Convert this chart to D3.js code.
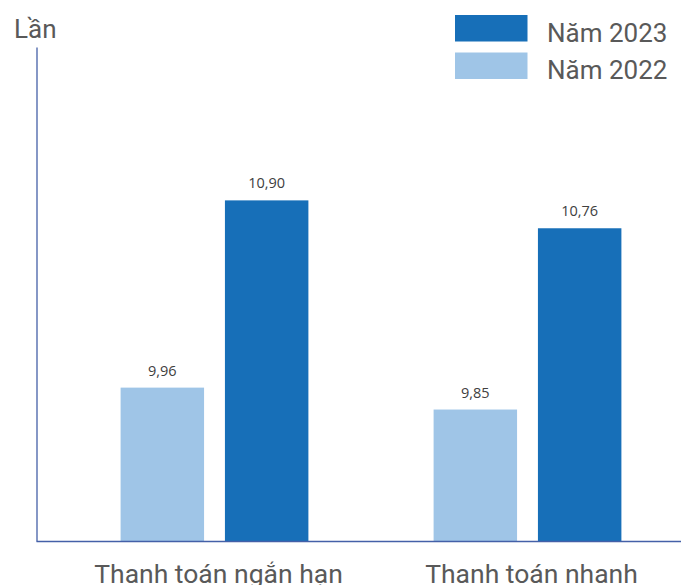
<!DOCTYPE html>
<html>
<head>
<meta charset="utf-8">
<script src="https://cdn.jsdelivr.net/npm/d3@7"></script>
<style>
  html, body { margin: 0; padding: 0; background: #ffffff; }
  svg { display: block; }
</style>
</head>
<body>
<svg id="chart" width="681" height="585"></svg>
<script>
// Hệ số khả năng thanh toán, năm 2022 và 2023
const categories = ["Thanh toán ngắn hạn", "Thanh toán nhanh"];
const seriesKeys = ["2022", "2023"];
const seriesNames = { "2022": "Năm 2022", "2023": "Năm 2023" };
const values2022 = [9.96, 9.85];
const values2023 = [10.90, 10.76];
const yAxisTitle = "Lần";

const colors = { "2022": "#9fc5e7", "2023": "#176fb8" };
const axisColor = "#4460a8";
const textColor = "#595959";

const rows = categories.map((c, i) => ({
  category: c,
  "2022": values2022[i],
  "2023": values2023[i]
}));

const svg = d3.select("#chart");
const plot = { left: 36.5, right: 681, top: 47, bottom: 541 };

// Scales
const x0 = d3.scaleBand()
  .domain(categories)
  .range([58, 684])
  .padding(0);

const x1 = d3.scaleBand()
  .domain(seriesKeys)
  .range([0, x0.bandwidth()])
  .paddingInner(0.2)
  .paddingOuter(0.6);

const y = d3.scaleLinear()
  .domain([9.19, 11.67])
  .range([plot.bottom, plot.top]);

const fmt = v => d3.format(".2f")(v).replace(".", ",");

// Bars
const groups = svg.append("g")
  .selectAll("g")
  .data(rows)
  .join("g")
  .attr("transform", d => `translate(${x0(d.category)},0)`);

groups.selectAll("rect")
  .data(d => seriesKeys.map(k => ({ key: k, value: d[k] })))
  .join("rect")
  .attr("x", d => x1(d.key))
  .attr("y", d => y(d.value))
  .attr("width", x1.bandwidth())
  .attr("height", d => y.range()[0] - y(d.value))
  .attr("fill", d => colors[d.key]);

// Value labels
groups.selectAll("text.value")
  .data(d => seriesKeys.map(k => ({ key: k, value: d[k] })))
  .join("text")
  .attr("class", "value")
  .attr("x", d => x1(d.key) + x1.bandwidth() / 2)
  .attr("y", d => y(d.value) - 12)
  .attr("text-anchor", "middle")
  .attr("font-family", "'Open Sans', sans-serif")
  .attr("font-size", 14.5)
  .attr("fill", "#404040")
  .text(d => fmt(d.value));

// Axes (lines only, no ticks)
const xAxis = d3.axisBottom(x0).tickSize(0).tickPadding(0).tickFormat("");
svg.append("g")
  .attr("transform", `translate(0,${plot.bottom})`)
  .call(xAxis)
  .call(g => g.select(".domain").remove());

svg.append("line")
  .attr("x1", plot.left).attr("x2", plot.right)
  .attr("y1", plot.bottom + 0.5).attr("y2", plot.bottom + 0.5)
  .attr("stroke", axisColor).attr("stroke-width", 1.3);

const yAxis = d3.axisLeft(y).tickValues([]).tickSizeOuter(0);
svg.append("g")
  .attr("transform", `translate(${plot.left},0)`)
  .call(yAxis)
  .call(g => g.select(".domain").attr("stroke", axisColor).attr("stroke-width", 1.3));

// Category labels
svg.append("g")
  .selectAll("text")
  .data(categories)
  .join("text")
  .attr("x", d => x0(d) + x0.bandwidth() / 2 + 4)
  .attr("y", 583)
  .attr("text-anchor", "middle")
  .attr("font-family", "Roboto, sans-serif")
  .attr("font-size", 26.5)
  .attr("fill", textColor)
  .text(d => d);

// Y axis title
svg.append("text")
  .attr("x", 14)
  .attr("y", 38)
  .attr("font-family", "Roboto, sans-serif")
  .attr("font-size", 26)
  .attr("fill", textColor)
  .text(yAxisTitle);

// Legend
const legendKeys = ["2023", "2022"];
const legend = svg.append("g")
  .selectAll("g")
  .data(legendKeys)
  .join("g")
  .attr("transform", (d, i) => `translate(455,${15 + i * 37.5})`);

legend.append("rect")
  .attr("width", 72.5)
  .attr("height", 26.5)
  .attr("fill", d => colors[d]);

legend.append("text")
  .attr("x", 92)
  .attr("y", 26.5)
  .attr("font-family", "Roboto, sans-serif")
  .attr("font-size", 26)
  .attr("fill", textColor)
  .text(d => seriesNames[d]);
</script>
</body>
</html>
